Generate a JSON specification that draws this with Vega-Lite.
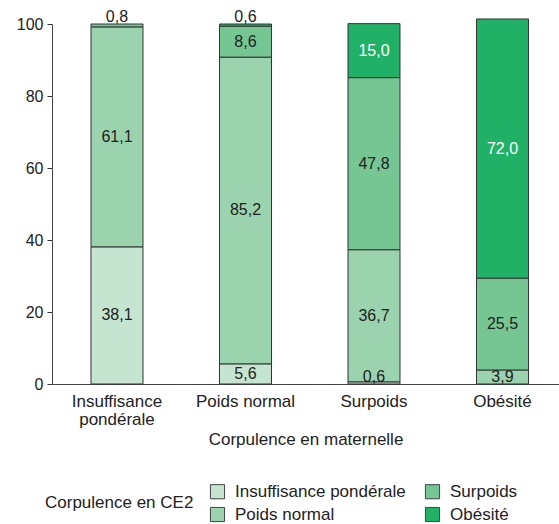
{
  "$schema": "https://vega.github.io/schema/vega-lite/v6.json",
  "width": 507,
  "height": 360,
  "autosize": {"type": "none"},
  "padding": {"left": 52, "top": 24, "right": 0, "bottom": 140},
  "config": {
    "font": "Liberation Sans",
    "view": {"stroke": null}
  },
  "data": {
    "values": [
      {"maternelle": "Insuffisance pondérale", "ce2": "Insuffisance pondérale", "pct": 38.1, "rang": 1},
      {"maternelle": "Insuffisance pondérale", "ce2": "Poids normal", "pct": 61.1, "rang": 2},
      {"maternelle": "Insuffisance pondérale", "ce2": "Surpoids", "pct": 0.8, "rang": 3},
      {"maternelle": "Poids normal", "ce2": "Insuffisance pondérale", "pct": 5.6, "rang": 1},
      {"maternelle": "Poids normal", "ce2": "Poids normal", "pct": 85.2, "rang": 2},
      {"maternelle": "Poids normal", "ce2": "Surpoids", "pct": 8.6, "rang": 3},
      {"maternelle": "Poids normal", "ce2": "Obésité", "pct": 0.6, "rang": 4},
      {"maternelle": "Surpoids", "ce2": "Insuffisance pondérale", "pct": 0.6, "rang": 1},
      {"maternelle": "Surpoids", "ce2": "Poids normal", "pct": 36.7, "rang": 2},
      {"maternelle": "Surpoids", "ce2": "Surpoids", "pct": 47.8, "rang": 3},
      {"maternelle": "Surpoids", "ce2": "Obésité", "pct": 15.0, "rang": 4},
      {"maternelle": "Obésité", "ce2": "Poids normal", "pct": 3.9, "rang": 2},
      {"maternelle": "Obésité", "ce2": "Surpoids", "pct": 25.5, "rang": 3},
      {"maternelle": "Obésité", "ce2": "Obésité", "pct": 72.0, "rang": 4}
    ]
  },
  "transform": [
    {"stack": "pct", "groupby": ["maternelle"], "sort": [{"field": "rang", "order": "ascending"}], "as": ["y0", "y1"]},
    {"calculate": "(datum.y0 + datum.y1) / 2", "as": "mid"},
    {"calculate": "replace(format(datum.pct, '.1f'), '.', ',')", "as": "etiquette"}
  ],
  "encoding": {
    "x": {
      "field": "maternelle",
      "type": "nominal",
      "sort": ["Insuffisance pondérale", "Poids normal", "Surpoids", "Obésité"],
      "scale": {"paddingInner": 0.5953, "paddingOuter": 0.2704, "align": 0.561},
      "axis": {
        "title": "Corpulence en maternelle",
        "titleFontSize": 17,
        "titleFontWeight": "normal",
        "titleColor": "#222",
        "titlePadding": 4,
        "labelAngle": 0,
        "labelFontSize": 17,
        "labelLineHeight": 18,
        "labelColor": "#222",
        "labelPadding": 9,
        "labelExpr": "datum.label == 'Insuffisance pondérale' ? ['Insuffisance', 'pondérale'] : datum.label",
        "ticks": false,
        "domainColor": "#444",
        "domainWidth": 1
      }
    }
  },
  "layer": [
    {
      "mark": {"type": "bar", "stroke": "#333", "strokeWidth": 1, "clip": false},
      "encoding": {
        "y": {
          "field": "y0",
          "type": "quantitative",
          "scale": {"domain": [0, 100], "nice": false},
          "axis": {
            "title": null,
            "values": [0, 20, 40, 60, 80, 100],
            "grid": false,
            "tickSize": 5,
            "tickColor": "#333",
            "domainColor": "#444",
            "labelFontSize": 16,
            "labelColor": "#222",
            "labelPadding": 4
          }
        },
        "y2": {"field": "y1"},
        "color": {
          "field": "ce2",
          "type": "nominal",
          "scale": {
            "domain": ["Insuffisance pondérale", "Poids normal", "Surpoids", "Obésité"],
            "range": ["#c6e5d0", "#9bd3ae", "#76c693", "#21b166"]
          },
          "legend": {
            "title": "Corpulence en CE2",
            "orient": "none",
            "legendX": -7,
            "legendY": 459,
            "titleOrient": "left",
            "titleFontSize": 17,
            "titleFontWeight": "normal",
            "titleColor": "#222",
            "titleBaseline": "middle",
            "titlePadding": 15,
            "columns": 2,
            "columnPadding": 17,
            "rowPadding": 4,
            "symbolType": "square",
            "symbolSize": 200,
            "symbolStrokeColor": "#444",
            "symbolStrokeWidth": 1,
            "symbolOpacity": 1,
            "labelFontSize": 17,
            "labelLimit": 300,
            "labelColor": "#222",
            "labelOffset": 9
          }
        }
      }
    },
    {
      "transform": [{"filter": "datum.pct >= 5"}],
      "mark": {"type": "text", "fontSize": 16, "baseline": "middle"},
      "encoding": {
        "y": {"field": "mid", "type": "quantitative"},
        "text": {"field": "etiquette"},
        "color": {"condition": {"test": "datum.ce2 == 'Obésité'", "value": "#ffffff"}, "value": "#222"}
      }
    },
    {
      "transform": [{"filter": "datum.pct < 5 && datum.y1 >= 99"}],
      "mark": {"type": "text", "fontSize": 16, "baseline": "alphabetic", "dy": -2, "color": "#222"},
      "encoding": {
        "y": {"field": "y1", "type": "quantitative"},
        "text": {"field": "etiquette"}
      }
    },
    {
      "transform": [{"filter": "datum.pct < 5 && datum.y0 < 0.01"}],
      "mark": {"type": "text", "fontSize": 16, "baseline": "alphabetic", "dy": -2, "color": "#222"},
      "encoding": {
        "y": {"field": "y0", "type": "quantitative"},
        "text": {"field": "etiquette"}
      }
    }
  ]
}
